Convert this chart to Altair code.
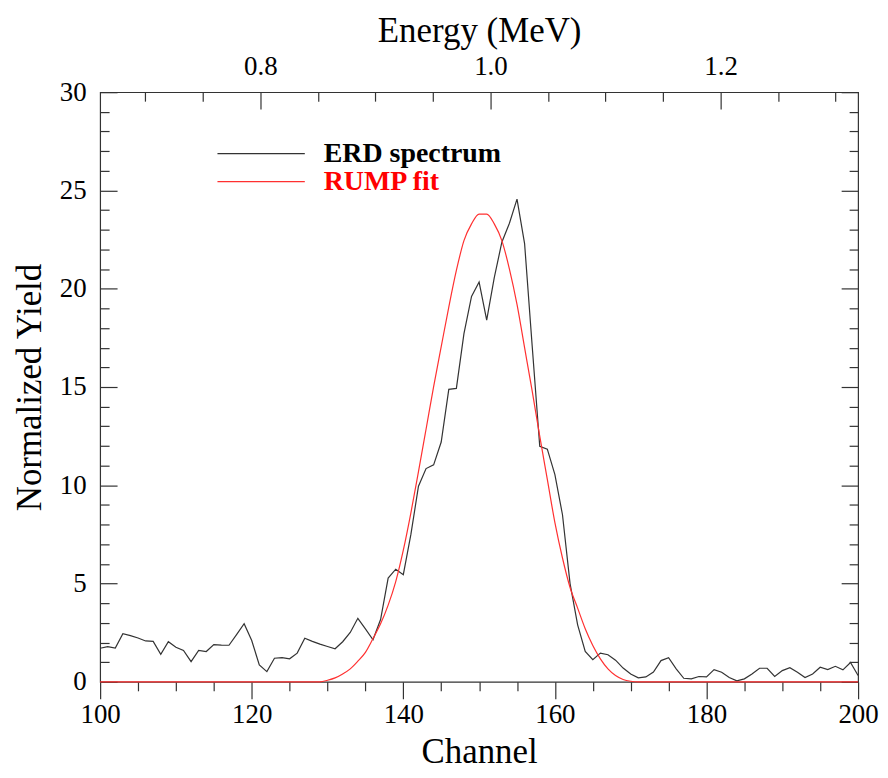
import altair as alt
import pandas as pd

# ---------------- data ----------------
channels = list(range(100, 201))

erd_yield = [
    1.71, 1.79, 1.72, 2.45, 2.35, 2.23, 2.08, 2.06, 1.40, 2.04,   # 100-109
    1.76, 1.60, 1.03, 1.60, 1.54, 1.89, 1.87, 1.86, 2.40, 2.96,   # 110-119
    2.10, 0.86, 0.52, 1.20, 1.23, 1.17, 1.46, 2.22, 2.06, 1.92,   # 120-129
    1.80, 1.68, 2.04, 2.51, 3.23, 2.69, 2.14, 3.17, 5.28, 5.73,   # 130-139
    5.45, 7.50, 9.95, 10.85, 11.04, 12.20, 14.88, 14.93, 17.72, 19.61,  # 140-149
    20.34, 18.40, 20.56, 22.37, 23.33, 24.56, 22.30, 17.10, 11.98, 11.84,  # 150-159
    10.54, 8.50, 5.00, 2.90, 1.55, 1.13, 1.46, 1.38, 1.10, 0.70,  # 160-169
    0.40, 0.20, 0.25, 0.50, 1.08, 1.23, 0.66, 0.18, 0.15, 0.27,   # 170-179
    0.25, 0.62, 0.49, 0.22, 0.05, 0.15, 0.40, 0.69, 0.69, 0.27,   # 180-189
    0.57, 0.72, 0.49, 0.22, 0.40, 0.74, 0.62, 0.79, 0.61, 0.98,   # 190-199
    0.32,                                                          # 200
]

rump_yield = [
    0, 0, 0, 0, 0, 0, 0, 0, 0, 0,                                  # 100-109
    0, 0, 0, 0, 0, 0, 0, 0, 0, 0,                                  # 110-119
    0, 0, 0, 0, 0, 0, 0, 0, 0, 0.0,                                # 120-129
    0.08, 0.20, 0.40, 0.66, 1.05, 1.50, 2.20, 2.95, 3.90, 5.10,    # 130-139
    6.70, 8.60, 10.70, 12.85, 15.02, 17.05, 19.07, 20.93, 22.45, 23.30,  # 140-149
    23.80, 23.80, 23.30, 22.45, 21.00, 19.20, 17.00, 14.80, 12.50, 10.30,  # 150-159
    8.10, 6.30, 4.80, 3.75, 2.70, 1.85, 1.17, 0.66, 0.32, 0.12,    # 160-169
    0.03, 0, 0, 0, 0, 0, 0, 0, 0, 0,                               # 170-179
    0, 0, 0, 0, 0, 0, 0, 0, 0, 0,                                  # 180-189
    0, 0, 0, 0, 0, 0, 0, 0, 0, 0,                                  # 190-199
    0,                                                             # 200
]

series_names = ["ERD spectrum", "RUMP fit"]
line_colors = ["#333333", "#ff3030"]
text_colors = ["#000000", "#ff0000"]

yield_major = [0, 5, 10, 15, 20, 25, 30]
yield_minor = [v for v in range(0, 31) if v % 5]
chan_major = [100, 120, 140, 160, 180, 200]
chan_minor = [c for c in range(100, 201, 5) if c % 20]
energy_major = [0.8, 1.0, 1.2]
energy_minor = [0.7, 0.75, 0.85, 0.9, 0.95, 1.05, 1.1, 1.15, 1.25, 1.3]

# energy calibration: channel at 1.0 MeV, channels per MeV
E_CH0, E_SLOPE = 151.5, 151.8


def energy(ch):
    return 1.0 + (ch - E_CH0) / E_SLOPE


# ---------------- chart ----------------
W, H = 761, 592
FONT = "Liberation Serif"
AX = "#333333"
TITLE_SIZE = 35
LABEL_SIZE = 27

df = pd.DataFrame({
    "channel": channels * 2,
    "yld": erd_yield + rump_yield,
    "series": [series_names[0]] * len(channels) + [series_names[1]] * len(channels),
})
legend_df = pd.DataFrame({"series": series_names, "row": [0, 1]})

xs = alt.Scale(domain=[100, 200], nice=False, zero=False)
ys = alt.Scale(domain=[0, 30], nice=False, zero=False)
es = alt.Scale(domain=[energy(100), energy(200)], nice=False, zero=False)


def tick_axis(orient, values, size, offset=0):
    return alt.Axis(orient=orient, values=values, tickSize=size, labels=False,
                    domain=False, grid=False, title=None, offset=offset,
                    ticks=True, tickColor=AX, tickWidth=1.2)


line_color = alt.Color("series:N", scale=alt.Scale(domain=series_names, range=line_colors), legend=None)

base = alt.Chart(df)

erd_layer = base.transform_filter(alt.datum.series == series_names[0]).mark_line(
    strokeWidth=1.2
).encode(
    x=alt.X("channel:Q", scale=xs, axis=alt.Axis(
        orient="bottom", values=chan_major, tickSize=17, tickColor=AX, tickWidth=1.2,
        labelFont=FONT, labelFontSize=LABEL_SIZE, labelColor="black", labelPadding=3,
        labelFlush=False, labelOverlap=False,
        title="Channel", titleFont=FONT, titleFontSize=TITLE_SIZE, titleFontWeight="normal",
        titleColor="black", titlePadding=7, domain=False, grid=False)),
    y=alt.Y("yld:Q", scale=ys, axis=alt.Axis(
        orient="left", values=yield_major, ticks=False, labelPadding=14,
        labelFlush=False, labelOverlap=False,
        labelFont=FONT, labelFontSize=LABEL_SIZE, labelColor="black",
        title="Normalized Yield", titleFont=FONT, titleFontSize=TITLE_SIZE,
        titleFontWeight="normal", titleColor="black", titlePadding=12,
        domain=False, grid=False)),
    color=line_color,
)

rump_layer = base.transform_filter(alt.datum.series == series_names[1]).mark_line(
    strokeWidth=1.2, interpolate="monotone"
).encode(
    x=alt.X("channel:Q", scale=xs, axis=tick_axis("bottom", chan_minor, 9)),
    y=alt.Y("yld:Q", scale=ys, axis=tick_axis("right", yield_major, 17, offset=-W)),
    color=line_color,
)

ghost = base.transform_filter(alt.datum.series == series_names[0]).transform_calculate(
    energy=f"1.0 + (datum.channel - {E_CH0}) / {E_SLOPE}"
)

g1 = ghost.mark_point(opacity=0).encode(
    x=alt.X("energy:Q", scale=es, axis=alt.Axis(
        orient="top", values=energy_major, format=".1f", ticks=False, labelPadding=12,
        labelFlush=False, labelOverlap=False,
        labelFont=FONT, labelFontSize=LABEL_SIZE, labelColor="black",
        title="Energy (MeV)", titleFont=FONT, titleFontSize=TITLE_SIZE,
        titleFontWeight="normal", titleColor="black", titlePadding=4,
        domain=False, grid=False)),
    y=alt.Y("yld:Q", scale=ys, axis=tick_axis("right", yield_minor, 9, offset=-W)),
)
g2 = ghost.mark_point(opacity=0).encode(
    x=alt.X("energy:Q", scale=es, axis=tick_axis("bottom", energy_major, 17, offset=-H)),
    y=alt.Y("yld:Q", scale=ys, axis=tick_axis("left", yield_major, 17, offset=-W)),
)
g3 = ghost.mark_point(opacity=0).encode(
    x=alt.X("energy:Q", scale=es, axis=tick_axis("bottom", energy_minor, 9, offset=-H)),
    y=alt.Y("yld:Q", scale=ys, axis=tick_axis("left", yield_minor, 9, offset=-W)),
)

row_scale = alt.Scale(type="point", domain=[0, 1], range=[61.7, 89.7], padding=0)
leg_base = alt.Chart(legend_df)
leg_lines = leg_base.mark_rule(strokeWidth=1.2).encode(
    x=alt.value(117.8), x2=alt.value(205.5),
    y=alt.Y("row:O", scale=row_scale, axis=None),
    color=line_color,
)
leg_text = leg_base.mark_text(
    align="left", baseline="middle", font=FONT, fontSize=28, fontWeight="bold"
).encode(
    x=alt.value(224.5),
    y=alt.Y("row:O", scale=row_scale, axis=None),
    text="series:N",
    color=alt.Color("series:N", scale=alt.Scale(domain=series_names, range=text_colors), legend=None),
)

chart = alt.layer(
    erd_layer, rump_layer, g1, g2, g3, leg_lines, leg_text
).resolve_scale(
    x="independent", y="independent", color="independent"
).resolve_axis(
    x="independent", y="independent"
).properties(
    width=W, height=H,
    autosize=alt.AutoSizeParams(type="none"),
    padding={"left": 92.5, "top": 83, "right": 22, "bottom": 87},
    background="white",
).configure_view(
    stroke=AX, strokeWidth=1.2
)

chart.save("out.html", embed_options={"renderer": "svg", "actions": False})
